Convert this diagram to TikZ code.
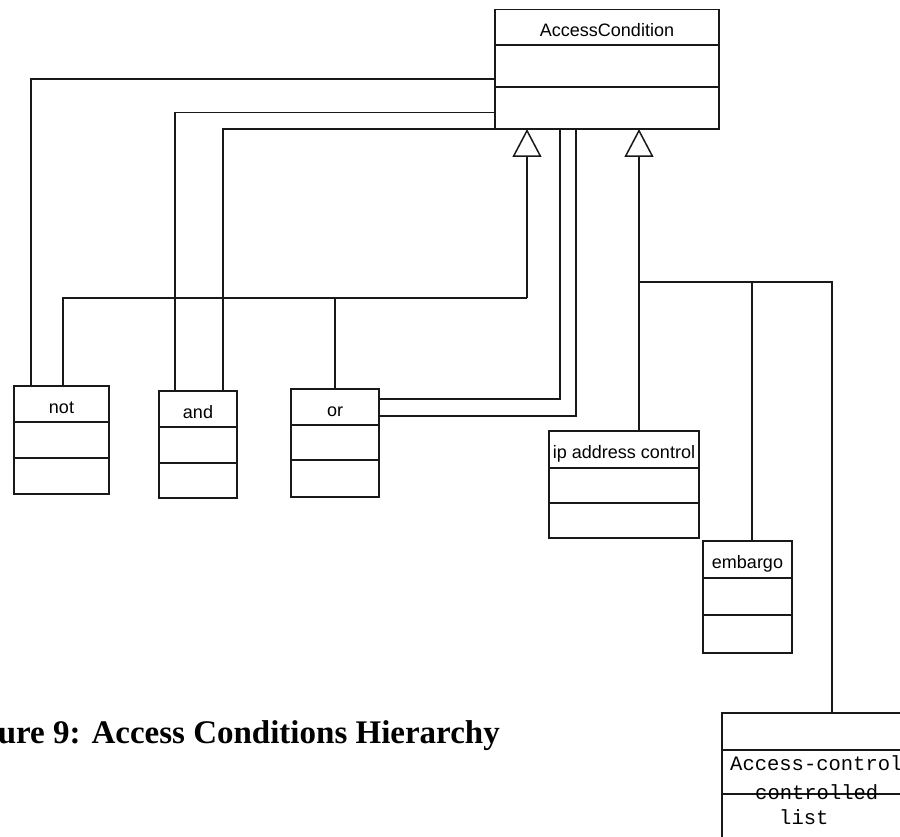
\documentclass[tikz,border=0pt]{standalone}
\usepackage{fontspec}
\setmainfont{Liberation Sans}
\newfontfamily\monofont{Liberation Mono}
\newfontfamily\capfont{Liberation Serif}
\usetikzlibrary{calc,arrows.meta}

\tikzset{
  umlline/.style={line width=1.5pt, draw=black!90},
  classbox/.style={umlline, rectangle, inner sep=0pt, outer sep=0pt, fill=none},
  classname/.style={font=\fontsize{18}{20}\selectfont, inner sep=0pt},
  monotext/.style={font=\monofont\fontsize{20.5}{22}\selectfont, inner sep=0pt, anchor=base west},
  captiontext/.style={font=\capfont\bfseries\fontsize{33}{36}\selectfont, inner sep=0pt, anchor=base east},
  link/.style={umlline},
  generalize/.style={umlline, -{Triangle[open, width=29pt, length=28pt, line width=1.5pt]}},
}

% class box: name, left, top, width, h1, h2, h3, label
\newcommand{\umlclass}[8]{%
  \node[classbox, anchor=north west, minimum width=#4pt,
        minimum height={#5pt+#6pt+#7pt}] (#1) at (#2,#3) {};
  \draw[umlline] ($(#1.north west)+(0,#5)$) -- ($(#1.north east)+(0,#5)$);
  \draw[umlline] ($(#1.north west)+(0,#5+#6)$) -- ($(#1.north east)+(0,#5+#6)$);
  \node[classname, anchor=base] (#1-name) at ($(#1.north)+(0,27.5)$) {#8};
}

\begin{document}
\begin{tikzpicture}[x=1pt, y=-1pt]
  \clip (0,0) rectangle (900,837);
  \fill[white] (0,0) rectangle (900,837);

  % classes
  \umlclass{ac}{495}{9.5}{224}{35.5}{42}{42}{AccessCondition}
  \umlclass{not}{14}{386}{95}{36}{36}{36}{not}
  \umlclass{and}{159}{391}{78}{36}{36}{35}{and}
  \umlclass{or}{291}{389}{88}{36}{35}{37}{or}
  \umlclass{ip}{549}{431}{150}{37}{35}{35}{ip address control}
  \umlclass{emb}{703}{541}{89}{37}{37}{38}{embargo}
  \umlclass{acl}{722}{713}{300}{37}{44}{44}{}

  % texts in the lower compartments of the access-control box
  \node[monotext] (acl-t1) at (730,770) {Access-control};
  \node[monotext] (acl-t2) at (755,799) {controlled};
  \node[monotext] (acl-t3) at (779,824) {list};

  % associations back to AccessCondition
  \draw[link] ($(not.north west)+(17,0)$) |- ($(ac.north west)+(0,69.5)$);
  \draw[link] ($(and.north west)+(16,0)$) |- ($(ac.north west)+(0,103)$);
  \draw[link] ($(and.north west)+(64,0)$) |- (ac.south west);
  \draw[link] ($(or.north east)+(0,10)$) -| ($(ac.south west)+(65,0)$);
  \draw[link] ($(or.north east)+(0,27)$) -| ($(ac.south west)+(81,0)$);

  % generalization: not, and, or
  \coordinate (treeL) at ($(ac.south west)+(32,169)$);
  \draw[link] ($(not.north west)+(49,0)$) |- (treeL);
  \draw[link] ($(and.north west)+(48,0)$) -- ($(and.north west)+(48,0)$ |- treeL);
  \draw[link] (or.north) -- (or.north |- treeL);
  \draw[generalize] (treeL) -- ($(ac.south west)+(32,0)$);

  % generalization: ip address control, embargo, access-control list
  \coordinate (treeR) at ($(ip.north west)+(90,-149)$);
  \draw[link] ($(ip.north west)+(90,0)$) -- (treeR);
  \draw[link] (treeR) -| ($(emb.north west)+(49,0)$);
  \draw[link] (treeR) -| ($(acl.north west)+(110,0)$);
  \draw[generalize] (treeR) -- ($(ac.south west)+(144,0)$);

  % caption
  \node[captiontext] (caption) at (500,743) {ure 9: Access Conditions Hierarchy};
\end{tikzpicture}
\end{document}
